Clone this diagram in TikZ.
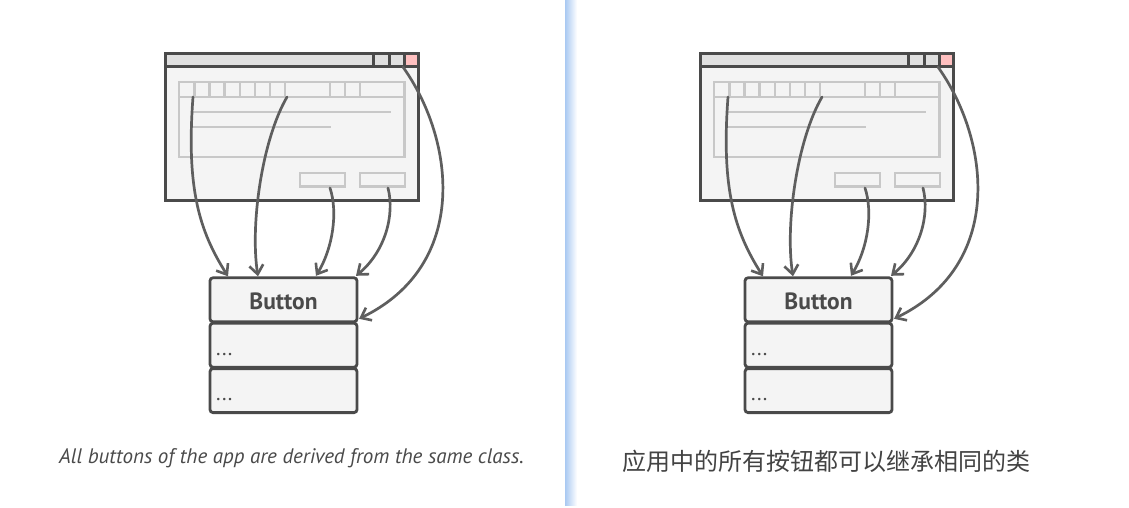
\documentclass[tikz,border=0pt]{standalone}
\usepackage{fontspec}
\setmainfont{PT Sans}
\newfontfamily\cjk{Noto Sans CJK SC}
\usetikzlibrary{arrows.meta,calc}
\definecolor{dark}{HTML}{4A4A4A}
\definecolor{arr}{HTML}{5E5E5E}
\definecolor{lite}{HTML}{C8C8C8}
\definecolor{winfill}{HTML}{F4F4F4}
\definecolor{barfill}{HTML}{E0E0E0}
\definecolor{redbtn}{HTML}{FFC0C0}
\definecolor{divblue}{HTML}{A9C9F2}
\tikzset{
  winline/.style={draw=dark,line width=3pt},
  inner/.style={draw=lite,line width=2.6pt},
  classbox/.style={draw=dark,fill=winfill,line width=2.8pt,rounded corners=3pt,
    minimum width=147pt,inner sep=0pt,outer sep=0pt},
  conn/.style={draw=arr,line width=2.7pt,line cap=round,
    -{Straight Barb[length=9pt,width=14pt,line width=2.6pt]}},
  dots/.style={font=\fontsize{21}{21}\selectfont,text=dark,anchor=base west,inner sep=0pt},
}
\begin{document}
\begin{tikzpicture}[x=1pt,y=-1pt]
\useasboundingbox (0,0) rectangle (1129,507);
\fill[white] (0,0) rectangle (1129,507);
% divider
\shade[left color=divblue,right color=white] (565,0) rectangle (577,505);
\foreach \dx/\sfx in {0/L,535/R}{
\begin{scope}[xshift=\dx]
  % window
  \path[winline,fill=winfill] (165.5,53.5) rectangle (418.5,200.5);
  \path[winline,fill=barfill] (165.5,53.5) rectangle (418.5,66.5);
  \path[winline,fill=barfill] (373.5,53.5) rectangle (389,66.5);
  \path[winline,fill=barfill] (389,53.5) rectangle (404.3,66.5);
  \path[winline,fill=redbtn] (404.3,53.5) rectangle (418.5,66.5);
  % inner content
  \path[inner] (179,82) rectangle (404.5,157);
  \draw[lite,line width=2.6pt] (179,97) -- (404.5,97);
  \foreach \xx in {194.3,209.3,224.3,240,255,270,285,330,345,360}
    \draw[lite,line width=2.6pt] (\xx,82) -- (\xx,97);
  \draw[lite,line width=2.6pt] (193,112) -- (391,112);
  \draw[lite,line width=2.6pt] (193,127) -- (331,127);
  \path[inner] (300,173) rectangle (345,186.5);
  \path[inner] (360,173) rectangle (405,186.5);
  % arrow start points
  \coordinate (s1\sfx) at (193,97);
  \coordinate (s2\sfx) at (287,97);
  \coordinate (s3\sfx) at (330,188);
  \coordinate (s4\sfx) at (388,188);
  \coordinate (s5\sfx) at (403,67);
  % class box
  \node[classbox,minimum height=44pt] (hdr\sfx) at (283.5,299.8) {};
  \node[font=\fontsize{23.5}{23.5}\selectfont\bfseries,text=dark,inner sep=0pt] (btn\sfx) at (283.5,301) {Button};
  \node[classbox,minimum height=44pt] (f1\sfx) at (283.5,345.2) {};
  \node[classbox,minimum height=44pt] (f2\sfx) at (283.5,390.6) {};
  \node[dots] (d1\sfx) at (216,355.5) {...};
  \node[dots] (d2\sfx) at (216,400.5) {...};
  % connectors
  \draw[conn] (s1\sfx) .. controls (186,190) and (200,232) .. ([xshift=18pt,yshift=1.5pt]hdr\sfx.north west);
  \draw[conn] (s2\sfx) .. controls (262,140) and (250,225) .. ([xshift=48pt,yshift=1.5pt]hdr\sfx.north west);
  \draw[conn] (s3\sfx) .. controls (338,212) and (333,248) .. ([xshift=106pt,yshift=2pt]hdr\sfx.north west);
  \draw[conn] (s4\sfx) .. controls (395,215) and (385,252) .. ([xshift=-1pt,yshift=2pt]hdr\sfx.north east);
  \draw[conn] (s5\sfx) .. controls (455,140) and (470,265) .. ([xshift=2pt,yshift=3pt]hdr\sfx.south east);
\end{scope}}
% captions
\node[font=\fontsize{21}{21}\selectfont\itshape,text=dark,anchor=base,inner sep=0pt] (capL) at (291.5,463) {All buttons of the app are derived from the same class.};
\node[font=\cjk\fontsize{24}{24}\selectfont,text=dark!90!black,anchor=base,inner sep=0pt] (capR) at (826.5,470) {应用中的所有按钮都可以继承相同的类};
\end{tikzpicture}
\end{document}
